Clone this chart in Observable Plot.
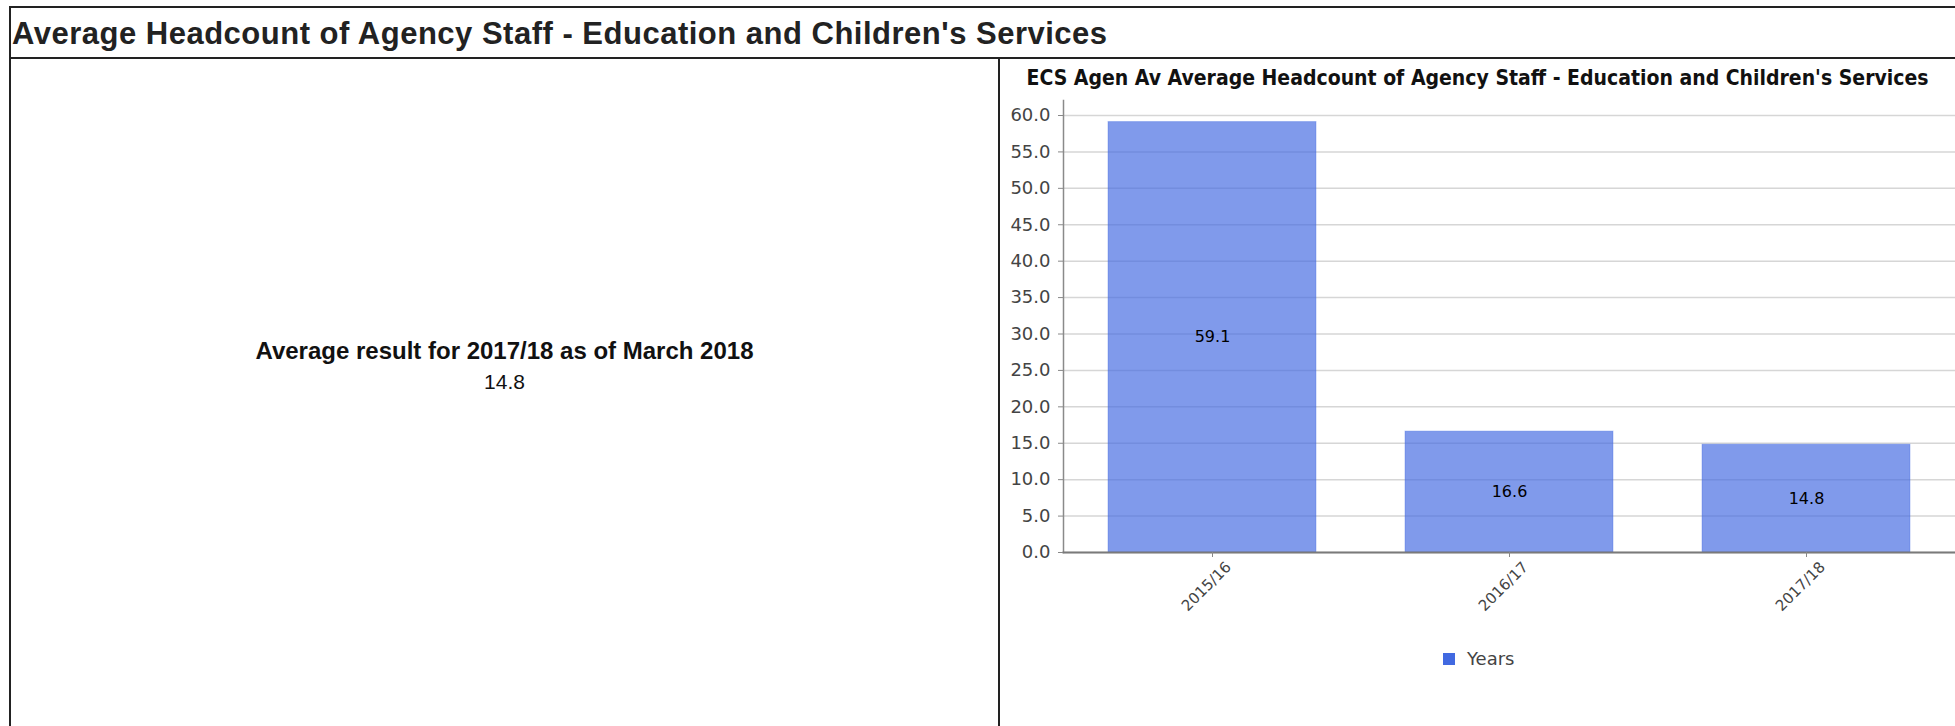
<!DOCTYPE html>
<html>
<head>
<meta charset="utf-8">
<script src="https://cdn.jsdelivr.net/npm/d3@7"></script>
<script src="https://cdn.jsdelivr.net/npm/@observablehq/plot@0.6"></script>
<style>
  html, body { margin: 0; padding: 0; background: #fff; }
  #page { position: relative; width: 1955px; height: 726px; overflow: hidden; font-family: "Liberation Sans", Arial, sans-serif; }
  .box { position: absolute; left: 9px; top: 6px; width: 2100px; height: 900px; border: 2px solid #222; box-sizing: border-box; }
  .hsep { position: absolute; left: 9px; top: 57px; width: 2100px; height: 2px; background: #222; }
  .vsep { position: absolute; left: 998px; top: 58px; width: 2px; height: 900px; background: #222; }
  .header { position: absolute; left: 12px; top: 18px; font-size: 31px; line-height: 31px; letter-spacing: 0.5px; font-weight: bold; color: #222; white-space: nowrap; }
  .summary { position: absolute; left: 11px; width: 987px; text-align: center; color: #111; white-space: nowrap; }
  .summary.label { top: 339px; font-size: 24px; line-height: 24px; font-weight: bold; }
  .summary.value { top: 371px; font-size: 21px; line-height: 21px; }
  .ctitle { position: absolute; left: 1000px; width: 955px; top: 68px; text-align: center; font-family: "DejaVu Sans Condensed", "DejaVu Sans", sans-serif; font-weight: bold; font-size: 21px; line-height: 21px; color: #111; white-space: nowrap; }
  #chart { position: absolute; left: 1001px; top: 90px; }
  #legend { position: absolute; left: 1443px; top: 642px; }
  #legend svg { margin-right: 12px !important; }
</style>
</head>
<body>
<div id="page">
  <div class="box"></div>
  <div class="hsep"></div>
  <div class="vsep"></div>
  <div class="header" id="header"></div>
  <div class="summary label" id="summaryLabel"></div>
  <div class="summary value" id="summaryValue"></div>
  <div class="ctitle" id="ctitle"></div>
  <div id="chart"></div>
  <div id="legend"></div>
</div>
<script>
// Average headcount of agency staff by financial year
const years = ["2015/16", "2016/17", "2017/18"];
const headcount = [59.1, 16.6, 14.8];
const yTicks = [0, 5, 10, 15, 20, 25, 30, 35, 40, 45, 50, 55, 60];
const seriesName = "Years";
const headerText = "Average Headcount of Agency Staff - Education and Children's Services";
const chartTitle = "ECS Agen Av Average Headcount of Agency Staff - Education and Children's Services";
const summaryText = "Average result for 2017/18 as of March 2018";
const summaryValue = 14.8;

const barBlue = "#4169e1";
const data = years.map((year, i) => ({year, value: headcount[i]}));

document.getElementById("header").textContent = headerText;
document.getElementById("summaryLabel").textContent = summaryText;
document.getElementById("summaryValue").textContent = summaryValue.toFixed(1);
document.getElementById("ctitle").textContent = chartTitle;

const W = 954, H = 530;
const chart = Plot.plot({
  width: W,
  height: H,
  marginLeft: 62,
  marginRight: 0,
  marginTop: 10,
  marginBottom: 68,
  style: {fontFamily: "'DejaVu Sans', Verdana, sans-serif", background: "transparent", overflow: "visible"},
  x: {domain: years, paddingInner: 0.3, paddingOuter: 0.15},
  y: {domain: [0, 60], range: [H - 68, 25]},
  marks: [
    Plot.gridY(yTicks, {stroke: "#d6d6d6", strokeOpacity: 1, strokeWidth: 1.5}),
    Plot.barY(data, {x: "year", y: "value", fill: barBlue, fillOpacity: 0.67, stroke: barBlue, strokeOpacity: 0.35}),
    Plot.text(data, {x: "year", y: d => d.value / 2, text: d => d.value.toFixed(1), fill: "#000", fontSize: 16}),
    Plot.frame({anchor: "left", stroke: "#8a8a8a", strokeWidth: 1.5}),
    Plot.frame({anchor: "bottom", stroke: "#7a7a7a", strokeWidth: 2}),
    Plot.axisY(yTicks, {tickFormat: d => d.toFixed(1), tickSize: 5, tickPadding: 8, fontSize: 18, fill: "#444", stroke: "#888", label: null}),
    // tick marks under each bar
    Plot.axisX({tickSize: 5, text: null, stroke: "#888", label: null}),
    // rotated year labels, nudged so their ends sit beside the ticks
    Plot.axisX({tickSize: 0, tickRotate: -45, tickPadding: 12, dx: 16, fontSize: 15, fill: "#444", label: null})
  ]
});
document.getElementById("chart").appendChild(chart);

const legend = Plot.legend({
  color: {domain: [seriesName], range: [barBlue]},
  swatchSize: 12,
  style: {fontFamily: "'DejaVu Sans', Verdana, sans-serif", fontSize: "18px", color: "#444"}
});
document.getElementById("legend").appendChild(legend);
</script>
</body>
</html>
